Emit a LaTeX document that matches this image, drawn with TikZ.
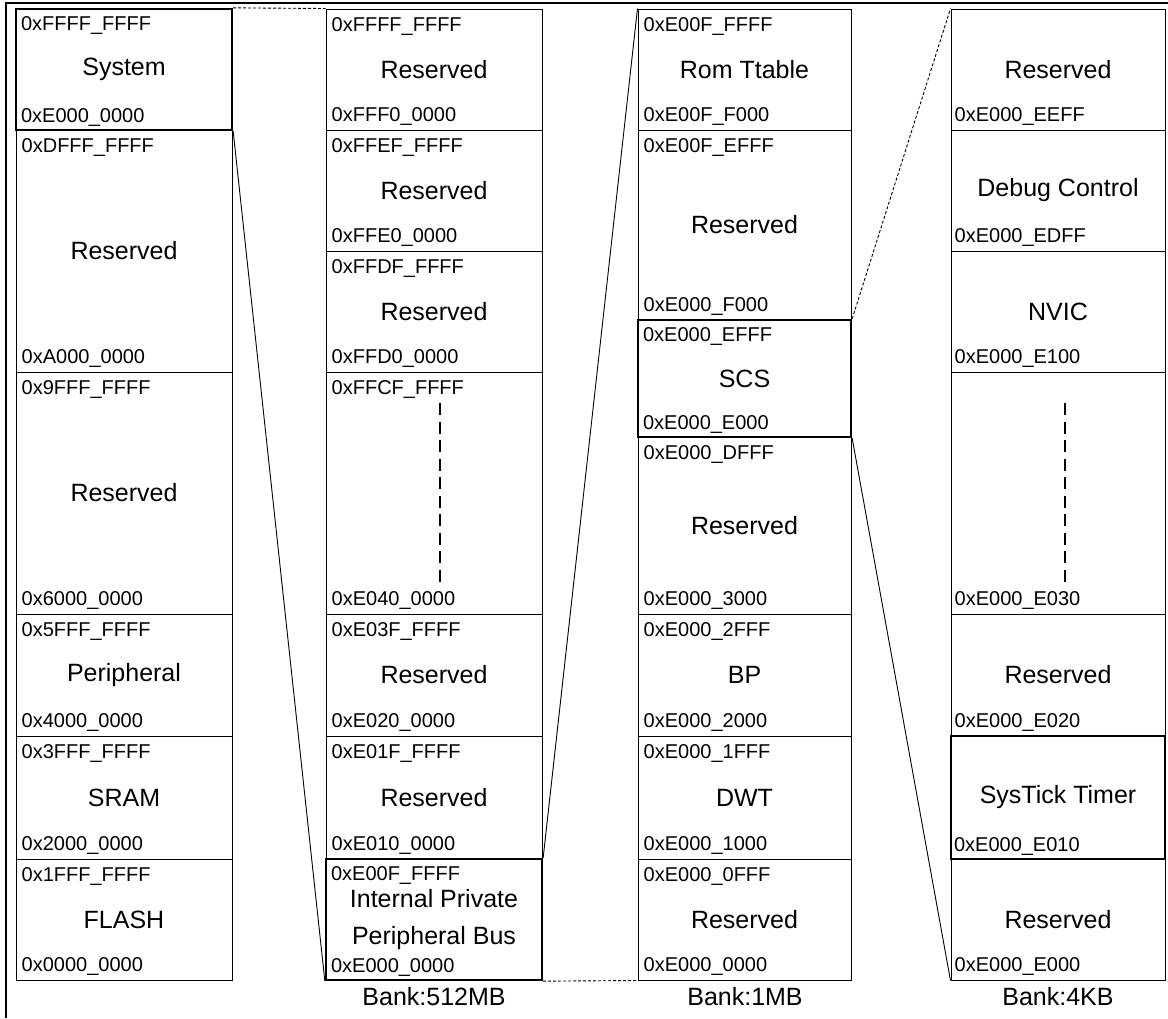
\documentclass[tikz,border=0pt]{standalone}
\usepackage{fontspec}
\setmainfont{Liberation Sans}
\newcommand\memcell[7][]{%
  \node[cellbox,#1,minimum width={(#4-#3)*1pt},minimum height={(#6-#5)*1pt}] (#2) at ({(#3+#4)/2},{(#5+#6)/2}) {#7};}
\newcommand\topaddr[3][6]{%
  \node[addr,anchor=base west] (#2-top) at ([xshift=#1pt,yshift=-23pt]#2.north west) {#3};}
\newcommand\botaddr[3][6]{%
  \node[addr,anchor=base west] (#2-bot) at ([xshift=#1pt,yshift=9pt]#2.south west) {#3};}
\begin{document}
\begin{tikzpicture}[x=1pt,y=-1pt,
  cellbox/.style={draw, rectangle, line width=1pt, inner sep=0pt, align=center,
                  font=\fontsize{25}{36}\selectfont},
  keycell/.style={line width=2.3pt},
  addr/.style={font=\fontsize{20}{24}\selectfont, inner sep=0pt},
  bank/.style={font=\fontsize{25}{30}\selectfont, inner sep=0pt},
  link/.style={line width=0.9pt},
  dlink/.style={line width=0.9pt, dash pattern=on 3pt off 2pt},
  gapline/.style={line width=2.5pt, dash pattern=on 12pt off 6.5pt},
  frame/.style={line width=2.5pt}]

\useasboundingbox (0,0) rectangle (1168,1018);

% outer frame (top and left edges)
\coordinate (fTR) at (1168,3);
\coordinate (fTL) at (6,3);
\coordinate (fBL) at (6,1018);
\draw[frame] (fTR) -- (fTL) -- (fBL);

% ---------- column 1 ----------
\memcell{c1b}{16}{232}{130}{372}{Reserved}
\memcell{c1c}{16}{232}{372}{614}{Reserved}
\memcell{c1d}{16}{232}{614}{736}{Peripheral}
\memcell{c1e}{16}{232}{736}{859}{SRAM}
\memcell{c1f}{16}{232}{859}{980}{FLASH}
\memcell[keycell]{c1a}{16}{232}{9}{130}{System}
\topaddr{c1a}{0xFFFF\_FFFF}\botaddr{c1a}{0xE000\_0000}
\topaddr{c1b}{0xDFFF\_FFFF}\botaddr{c1b}{0xA000\_0000}
\topaddr{c1c}{0x9FFF\_FFFF}\botaddr{c1c}{0x6000\_0000}
\topaddr{c1d}{0x5FFF\_FFFF}\botaddr{c1d}{0x4000\_0000}
\topaddr{c1e}{0x3FFF\_FFFF}\botaddr{c1e}{0x2000\_0000}
\topaddr{c1f}{0x1FFF\_FFFF}\botaddr{c1f}{0x0000\_0000}

% ---------- column 2 ----------
\memcell{c2a}{326}{542}{9}{130}{Reserved}
\memcell{c2b}{326}{542}{130}{251}{Reserved}
\memcell{c2c}{326}{542}{251}{372}{Reserved}
\memcell{c2d}{326}{542}{372}{614}{}
\memcell{c2e}{326}{542}{614}{736}{Reserved}
\memcell{c2f}{326}{542}{736}{859}{Reserved}
\memcell[keycell]{c2g}{326}{542}{859}{980}{Internal Private\\[1pt]Peripheral Bus}
\topaddr{c2a}{0xFFFF\_FFFF}\botaddr{c2a}{0xFFF0\_0000}
\topaddr{c2b}{0xFFEF\_FFFF}\botaddr{c2b}{0xFFE0\_0000}
\topaddr{c2c}{0xFFDF\_FFFF}\botaddr{c2c}{0xFFD0\_0000}
\topaddr{c2d}{0xFFCF\_FFFF}\botaddr{c2d}{0xE040\_0000}
\topaddr{c2e}{0xE03F\_FFFF}\botaddr{c2e}{0xE020\_0000}
\topaddr{c2f}{0xE01F\_FFFF}\botaddr{c2f}{0xE010\_0000}
\topaddr{c2g}{0xE00F\_FFFF}\botaddr{c2g}{0xE000\_0000}
\coordinate (g2t) at (440,403);
\coordinate (g2b) at (440,582);
\draw[gapline] (g2t) -- (g2b);

% ---------- column 3 ----------
\memcell{c3a}{638}{851}{9}{130}{Rom Ttable}
\memcell{c3b}{638}{851}{130}{320}{Reserved}
\memcell{c3d}{638}{851}{437}{614}{Reserved}
\memcell{c3e}{638}{851}{614}{736}{BP}
\memcell{c3f}{638}{851}{736}{859}{DWT}
\memcell{c3g}{638}{851}{859}{980}{Reserved}
\memcell[keycell]{c3c}{638}{851}{320}{437}{SCS}
\topaddr{c3a}{0xE00F\_FFFF}\botaddr{c3a}{0xE00F\_F000}
\topaddr{c3b}{0xE00F\_EFFF}\botaddr{c3b}{0xE000\_F000}
\topaddr{c3c}{0xE000\_EFFF}\botaddr{c3c}{0xE000\_E000}
\topaddr{c3d}{0xE000\_DFFF}\botaddr{c3d}{0xE000\_3000}
\topaddr{c3e}{0xE000\_2FFF}\botaddr{c3e}{0xE000\_2000}
\topaddr{c3f}{0xE000\_1FFF}\botaddr{c3f}{0xE000\_1000}
\topaddr{c3g}{0xE000\_0FFF}\botaddr{c3g}{0xE000\_0000}

% ---------- column 4 ----------
\memcell{c4a}{951}{1165}{9}{130}{Reserved}
\memcell{c4b}{951}{1165}{130}{251}{Debug Control}
\memcell{c4c}{951}{1165}{251}{372}{NVIC}
\memcell{c4d}{951}{1165}{372}{614}{}
\memcell{c4e}{951}{1165}{614}{736}{Reserved}
\memcell{c4g}{951}{1165}{859}{980}{Reserved}
\memcell[keycell]{c4f}{951}{1165}{736}{859}{SysTick Timer}
\botaddr[4]{c4a}{0xE000\_EEFF}
\botaddr[4]{c4b}{0xE000\_EDFF}
\botaddr[4]{c4c}{0xE000\_E100}
\botaddr[4]{c4d}{0xE000\_E030}
\botaddr[4]{c4e}{0xE000\_E020}
\botaddr[4]{c4f}{0xE000\_E010}
\botaddr[4]{c4g}{0xE000\_E000}
\coordinate (g4t) at (1065,403);
\coordinate (g4b) at (1065,582);
\draw[gapline] (g4t) -- (g4b);

% ---------- bank labels ----------
\node[bank] (bank2) at (434,997) {Bank:512MB};
\node[bank] (bank3) at (745,997) {Bank:1MB};
\node[bank] (bank4) at (1058,997) {Bank:4KB};

% ---------- zoom connectors ----------
\draw[dlink] (c1a.north east) -- (c2a.north west);
\draw[link]  (c1a.south east) -- (c2g.south west);
\draw[link]  (c2g.north east) -- (c3a.north west);
\draw[dlink] (c2g.south east) -- (c3g.south west);
\draw[dlink] (c3c.north east) -- (c4a.north west);
\draw[link]  (c3c.south east) -- (c4g.south west);
\end{tikzpicture}
\end{document}
